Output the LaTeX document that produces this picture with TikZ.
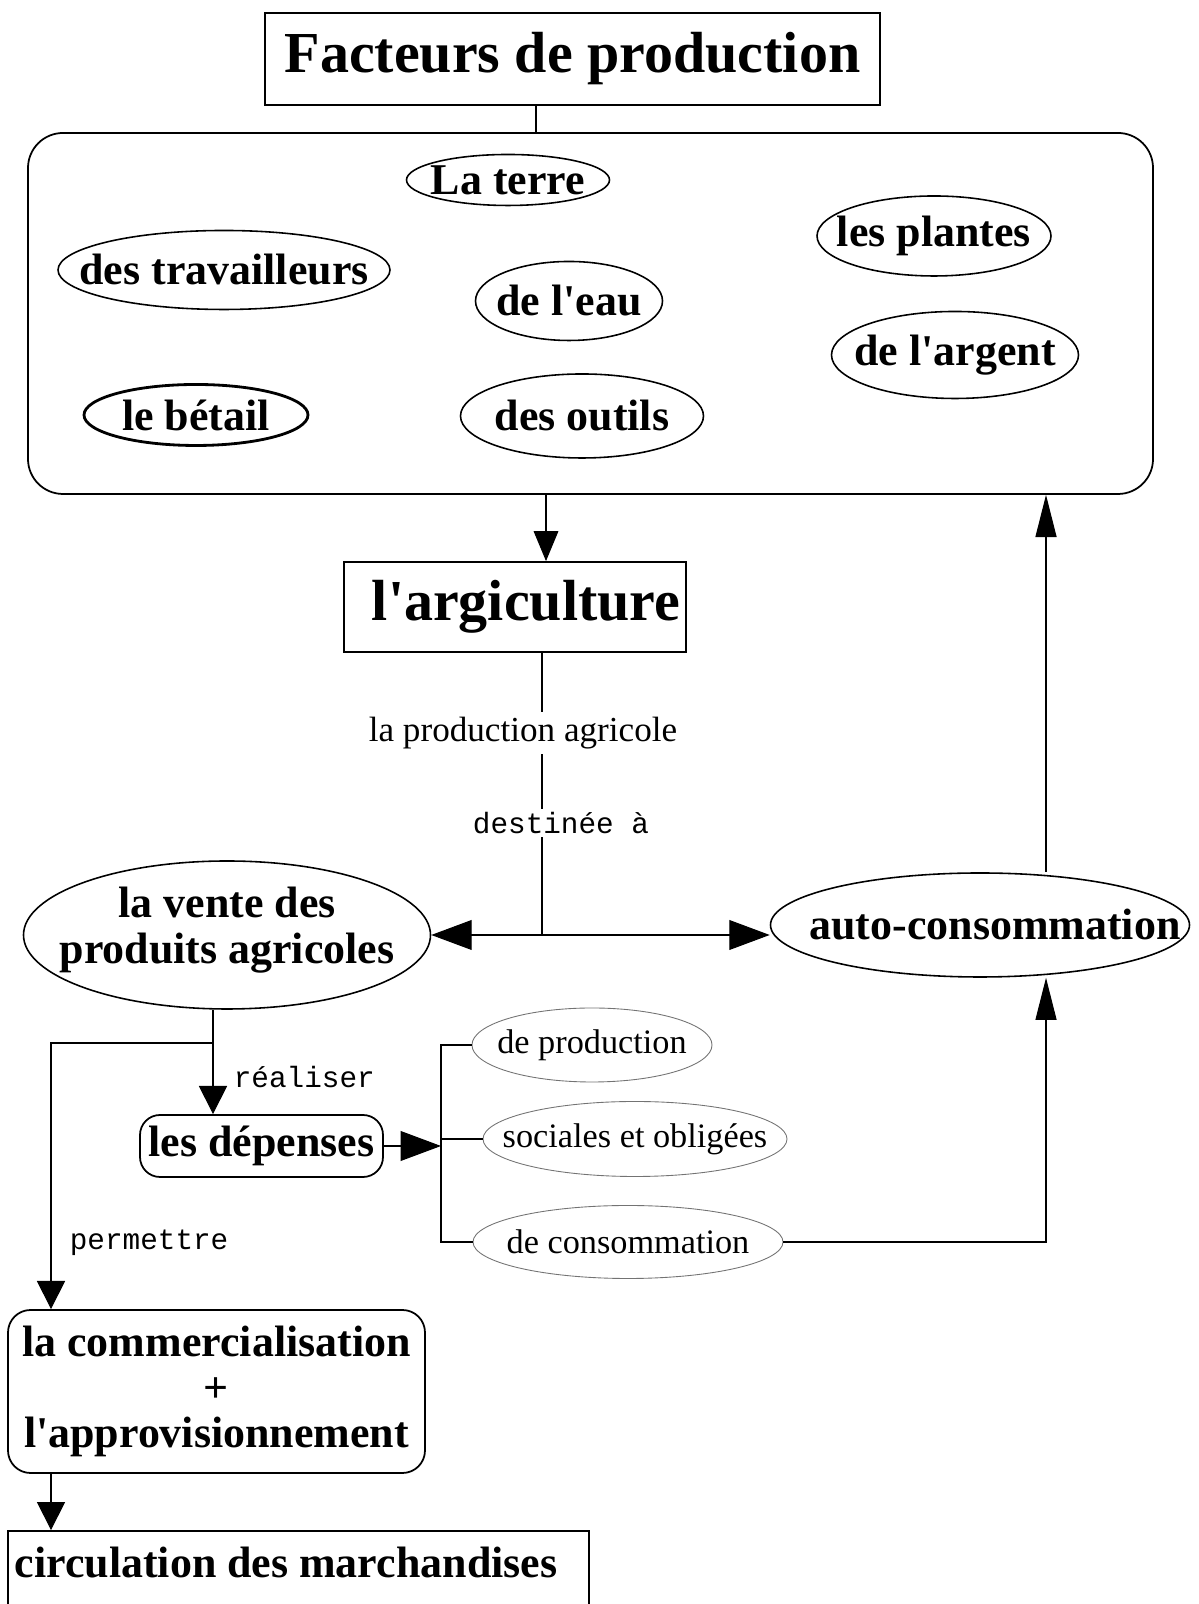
\documentclass[tikz,border=0pt]{standalone}
\usepackage{fontspec}
\setmainfont{Liberation Serif}
\setmonofont{Liberation Mono}
\usetikzlibrary{arrows.meta, positioning, shapes.geometric, calc}

\begin{document}
\begin{tikzpicture}[
    box/.style={draw, line width=1pt, inner sep=2pt},
    rbox/.style={box, rounded corners=0.45cm},
    oval/.style={ellipse, draw, line width=0.9pt, inner sep=0pt},
    faintoval/.style={ellipse, draw=black!55, line width=0.5pt, inner sep=0pt},
    headline/.style={font=\fontsize{33}{36}\selectfont\bfseries},
    word/.style={font=\fontsize{25}{26}\selectfont\bfseries, align=center},
    kind/.style={font=\fontsize{19.5}{21}\selectfont, inner sep=0pt},
    note/.style={font=\fontsize{20}{22}\selectfont, fill=white, inner sep=3pt},
    verb/.style={font=\fontsize{16.7}{18}\selectfont\ttfamily, fill=white, inner sep=2pt},
    link/.style={line width=0.6pt},
    tipdown/.style={link, -{Triangle[length=17pt, width=14pt]}},
    tipwide/.style={link, -{Triangle[length=23pt, width=17pt]}},
    tipup/.style={link, -{Triangle[length=24pt, width=12pt]}},
    tipdrop/.style={link, -{Triangle[length=16pt, width=16pt]}}
]
\useasboundingbox (0,0) rectangle (23.96,32.08);
\clip (0,0) rectangle (23.96,32.08);

% Title
\node[box, headline, minimum width=12.3cm, minimum height=1.84cm] (title) at (11.45,30.90) {Facteurs de production};

% Factors
\node[box, rounded corners=0.7cm, minimum width=22.5cm, minimum height=7.22cm] (facteurs) at (11.81,25.81) {};
\draw[link] ([xshift=-0.73cm]title.south) -- ([xshift=-0.73cm]title.south |- facteurs.north);

\node[oval, minimum width=4.06cm, minimum height=1.02cm] (terre) at (10.16,28.48) {};
\node[word, inner sep=0pt] (terre-t) at (terre.center) {La terre};

\node[oval, minimum width=6.64cm, minimum height=1.58cm] (travailleurs) at (4.48,26.68) {};
\node[word, inner sep=0pt] (travailleurs-t) at (travailleurs.center) {des travailleurs};

\node[oval, minimum width=3.74cm, minimum height=1.58cm] (eau) at (11.38,26.06) {};
\node[word, inner sep=0pt] (eau-t) at (eau.center) {de l\textquotesingle eau};

\node[oval, minimum width=4.68cm, minimum height=1.60cm] (plantes) at (18.68,27.36) {};
\node[word, inner sep=0pt] (plantes-t) at (plantes.center) {les plantes};

\node[oval, minimum width=4.94cm, minimum height=1.74cm] (argent) at (19.10,24.98) {};
\node[word, inner sep=0pt] (argent-t) at (argent.center) {de l\textquotesingle argent};

\node[oval, line width=1.6pt, minimum width=4.48cm, minimum height=1.22cm] (betail) at (3.92,23.78) {};
\node[word, inner sep=0pt] (betail-t) at (betail.center) {le bétail};

\node[oval, minimum width=4.86cm, minimum height=1.68cm] (outils) at (11.64,23.76) {};
\node[word, inner sep=0pt] (outils-t) at (outils.center) {des outils};

% Agriculture
\node[box, minimum width=6.84cm, minimum height=1.80cm] (agri) at (10.30,19.94) {};
\node[headline, inner sep=0pt] (agri-t) at ([xshift=0.22cm]agri.center) {l\textquotesingle argiculture};
\draw[tipdown] ([xshift=0.62cm]agri.north |- facteurs.south) -- ([xshift=0.62cm]agri.north);

\coordinate (split) at (10.84,13.38);
\draw[link] ([xshift=0.54cm]agri.south) -- (split);
\node[note] (prodagr) at (10.46,17.42) {la production agricole};
\node[verb] (destinee) at (11.22,15.62) {destinée à};

% Destinations
\node[oval, minimum width=8.14cm, minimum height=2.96cm] (vente) at (4.54,13.38) {};
\node[word, inner sep=0pt] (vente-t) at ([yshift=0.1cm]vente.center) {la vente des\\produits agricoles};

\node[oval, minimum width=8.38cm, minimum height=2.08cm] (auto) at (19.60,13.58) {};
\node[word, inner sep=0pt] (auto-t) at ([xshift=0.3cm]auto.center) {auto-consommation};

\draw[tipwide] (split) -- (split -| vente.east);
\draw[tipwide] (split) -- (split -| auto.west);
\draw[tipup] ([xshift=1.32cm]auto.north) -- ([xshift=1.32cm]auto.north |- facteurs.south);

% Spending
\node[rbox, word, rounded corners=0.4cm, minimum width=4.86cm, minimum height=1.24cm] (depenses) at (5.23,9.16) {les dépenses};
\coordinate (fork) at (4.26,11.22);
\draw[tipdrop] ([xshift=-0.28cm]vente.south) -- ([xshift=-0.28cm]vente.south |- depenses.north);
\node[verb, anchor=west] (realiser) at (4.60,10.54) {réaliser};

\node[faintoval, minimum width=4.80cm, minimum height=1.48cm] (prod) at (11.84,11.18) {};
\node[kind] (prod-t) at (prod.center) {de production};
\node[faintoval, minimum width=6.08cm, minimum height=1.50cm] (soc) at (12.70,9.30) {};
\node[kind] (soc-t) at (soc.center) {sociales et obligées};
\node[faintoval, minimum width=6.20cm, minimum height=1.46cm] (conso) at (12.56,7.24) {};
\node[kind] (conso-t) at (conso.center) {de consommation};

\coordinate (bracket) at (8.82,9.16);
\draw[link] (prod.west) -| (bracket) |- (conso.west);
\draw[link] (soc.west) -- (soc.west -| bracket);
\draw[tipwide] (depenses.east) -- (bracket);
\draw[tipup] (conso.east) -| ([xshift=1.32cm]auto.south);

% Trade
\node[rbox, word, minimum width=8.34cm, minimum height=3.26cm] (commerce) at (4.33,4.25) {la commercialisation\\+\\l\textquotesingle approvisionnement};
\draw[tipdrop] (fork) -| ([xshift=-3.31cm]commerce.north);
\node[verb, anchor=west] (permettre) at (1.32,7.22) {permettre};

\node[box, minimum width=11.62cm, minimum height=1.78cm] (circulation) at (5.97,0.57) {};
\node[word, inner sep=0pt] (circulation-t) at ([xshift=-0.25cm, yshift=-0.64cm]circulation.north) {circulation des marchandises};
\draw[tipdrop] ([xshift=-3.31cm]commerce.south) -- ([xshift=-3.31cm]commerce.south |- circulation.north);
\end{tikzpicture}
\end{document}
